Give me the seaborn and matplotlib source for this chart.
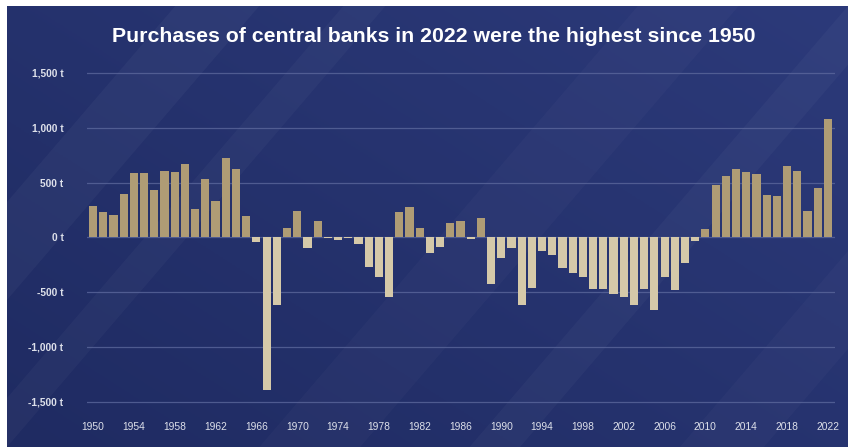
import numpy as np
import pandas as pd
import matplotlib
matplotlib.use("Agg")
import matplotlib.pyplot as plt
from matplotlib.patches import Polygon
import seaborn as sns

# Net central bank gold purchases per year, in tonnes
years = list(range(1950, 2023))
purchases = [
    288, 230, 203, 397, 588, 588, 430, 609, 597, 667,
    258, 533, 327, 721, 624, 193, -40, -1398, -620, 88,
    236, -95, 152, -5, -24, -8, -61, -268, -363, -545,
    227, 273, 85, -139, -85, 133, 145, -18, 179, -427,
    -188, -100, -621, -467, -124, -164, -276, -327, -361, -473,
    -473, -518, -542, -615, -473, -660, -361, -482, -233, -33,
    76, 474, 562, 623, 599, 575, 386, 374, 654, 602,
    240, 450, 1082,
]
y_ticks = [-1500, -1000, -500, 0, 500, 1000, 1500]
y_tick_labels = ["-1,500 t", "-1,000 t", "-500 t", "0 t", "500 t", "1,000 t", "1,500 t"]
x_tick_years = list(range(1950, 2023, 4))
title = "Purchases of central banks in 2022 were the highest since 1950"

df = pd.DataFrame({"year": [str(y) for y in years], "tonnes": purchases})
df["side"] = np.where(df["tonnes"] >= 0, "buy", "sell")

W, H = 848, 447
fig = plt.figure(figsize=(W / 100, H / 100), dpi=100, facecolor="white")

# Navy gradient panel with faint diagonal light bands
bg = fig.add_axes([7 / W, 0, 1 - 7 / W, 1 - 6 / H])
bg.set_axis_off()
gx, gy = np.meshgrid(np.linspace(0, 1, 300), np.linspace(0, 1, 160))
t = np.clip(0.55 * gx + 0.45 * (1 - gy), 0, 1)
c0 = np.array([0x1f, 0x2b, 0x62]) / 255
c1 = np.array([0x2c, 0x3a, 0x7a]) / 255
img = c0[None, None, :] * (1 - t[..., None]) + c1[None, None, :] * t[..., None]
bg.imshow(img, extent=[0, 1, 0, 1], aspect="auto", origin="upper")
for x0, w, a in [(-0.25, 0.10, 0.035), (-0.05, 0.05, 0.03), (0.30, 0.12, 0.025),
                 (0.55, 0.06, 0.03), (0.80, 0.10, 0.025)]:
    bg.add_patch(Polygon([[x0, 0], [x0 + w, 0], [x0 + w + 0.45, 1], [x0 + 0.45, 1]],
                         closed=True, facecolor="white", alpha=a, lw=0))
bg.set_xlim(0, 1)
bg.set_ylim(0, 1)

# Main chart
ax = fig.add_axes([87 / W, 1 - 410 / H, (835 - 87) / W, (410 - 65) / H])
ax.set_facecolor("none")
sns.barplot(data=df, x="year", y="tonnes", hue="side",
            palette={"buy": "#b99f6b", "sell": "#dccca2"},
            dodge=False, width=0.8, legend=False, ax=ax, zorder=3,
            linewidth=0)

ax.set_xlim(-0.6, 72.7)
ax.set_ylim(-1577, 1573)
ax.set_yticks(y_ticks)
ax.set_yticklabels(y_tick_labels)
ax.set_xticks([y - 1950 for y in x_tick_years])
ax.set_xticklabels([str(y) for y in x_tick_years])
ax.grid(axis="y", color="#5e6a9e", linewidth=0.9, alpha=0.75, zorder=0)
ax.grid(axis="x", visible=False)
for s in ax.spines.values():
    s.set_visible(False)
ax.tick_params(axis="both", length=0)
ax.tick_params(axis="y", pad=17, labelcolor="#dde0ea", labelsize=7.4)
ax.tick_params(axis="x", pad=9, labelcolor="#dde0ea", labelsize=7.4)
for lab in ax.get_yticklabels():
    lab.set_fontweight("bold")
    lab.set_family(["Liberation Sans", "DejaVu Sans"])
for lab in ax.get_xticklabels():
    lab.set_family(["Liberation Sans Narrow", "Liberation Sans", "DejaVu Sans"])
ax.set_xlabel("")
ax.set_ylabel("")

fig.text(434 / W, 1 - 36 / H, title, ha="center", va="center",
         color="white", fontsize=15.3, fontweight="bold",
         family=["Liberation Sans", "DejaVu Sans"])

fig.savefig("out.png", dpi=100, facecolor="white")
